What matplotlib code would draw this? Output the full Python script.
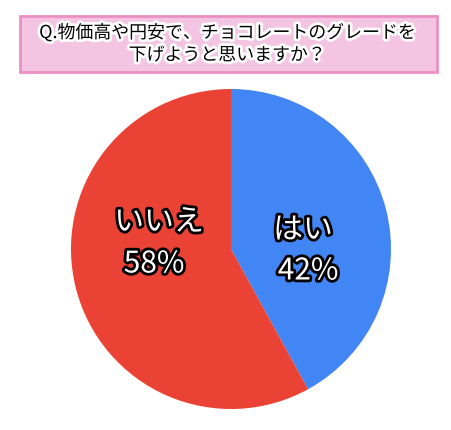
import matplotlib
matplotlib.use("Agg")
import matplotlib.pyplot as plt
import matplotlib.patheffects as pe
from matplotlib.patches import Rectangle

# data
answers = ["はい", "いいえ"]
shares = [42, 58]
colors = ["#4285F4", "#EA4335"]
question = "Q.物価高や円安で、チョコレートのグレードを\n下げようと思いますか？"

plt.rcParams['font.family'] = ['Noto Sans CJK JP', 'DejaVu Sans']

W, H = 452, 431
fig = plt.figure(figsize=(W / 100, H / 100), dpi=100)
ax = fig.add_axes([0, 0, 1, 1])

# pie, centre/radius in pixel units
wedges, _ = ax.pie(shares, colors=colors, startangle=90, counterclock=False,
                   center=(231, H - 250), radius=160,
                   wedgeprops=dict(linewidth=0))

# question box
ax.add_patch(Rectangle((20, H - 73), 417, 56, facecolor="#F4C4E3",
                       edgecolor="#EC8FC2", linewidth=2, zorder=3))
ax.text(227, H - 45, question, ha="center", va="center", fontsize=12.9,
        color="black", linespacing=1.3, zorder=4,
        path_effects=[pe.withStroke(linewidth=4, foreground="white")])

# slice labels
stroke = [pe.withStroke(linewidth=4, foreground="black")]
label_pos = {"はい": (303, 231, 308, 272), "いいえ": (159, 223, 154, 265)}
for name, val in zip(answers, shares):
    x1, y1, x2, y2 = label_pos[name]
    ax.text(x1, H - y1, name, ha="center", va="center", fontsize=21.5,
            color="white", path_effects=stroke, zorder=5)
    ax.text(x2, H - y2, f"{val}%", ha="center", va="center", fontsize=21.5,
            color="white", path_effects=stroke, zorder=5)

ax.set_xlim(0, W)
ax.set_ylim(0, H)
ax.axis("off")

fig.savefig("out.png", dpi=100, facecolor="white")
